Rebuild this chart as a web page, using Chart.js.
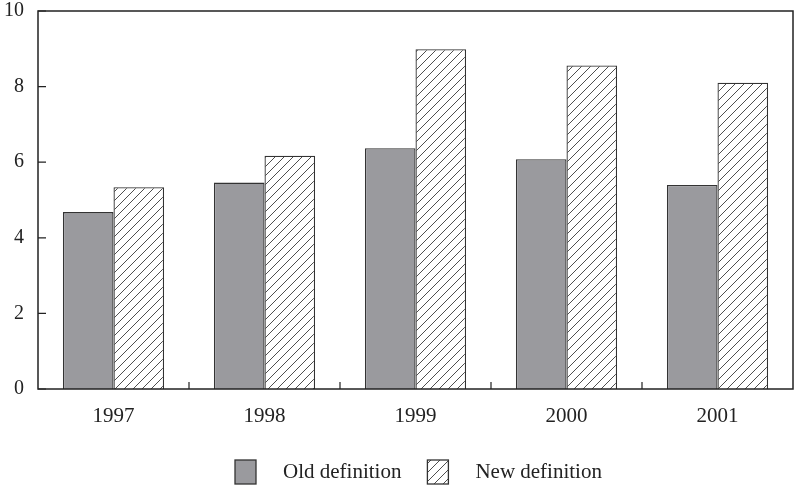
<!DOCTYPE html>
<html>
<head>
<meta charset="utf-8">
<script src="https://cdn.jsdelivr.net/npm/chart.js@4/dist/chart.umd.min.js"></script>
<style>
html,body{margin:0;padding:0;background:#fff;}
#wrap{width:796px;height:493px;}
</style>
</head>
<body>
<div id="wrap"><canvas id="c" width="796" height="493"></canvas></div>
<script>
const categories = ['1997','1998','1999','2000','2001'];
const oldDefinition = [4.68, 5.46, 6.37, 6.08, 5.40];
const newDefinition = [5.34, 6.17, 8.99, 8.56, 8.10];
const yTicks = [0, 2, 4, 6, 8, 10];
const seriesNames = ['Old definition', 'New definition'];

function makeHatch() {
  const s = 9;
  const pc = document.createElement('canvas');
  pc.width = s; pc.height = s;
  const g = pc.getContext('2d');
  g.fillStyle = '#ffffff';
  g.fillRect(0, 0, s, s);
  g.strokeStyle = '#3a3a3a';
  g.lineWidth = 0.9;
  g.beginPath();
  g.moveTo(-1, s + 1); g.lineTo(s + 1, -1);
  g.moveTo(-1, 1); g.lineTo(1, -1);
  g.moveTo(s - 1, s + 1); g.lineTo(s + 1, s - 1);
  g.stroke();
  return g.createPattern(pc, 'repeat');
}
const ctx0 = document.getElementById('c').getContext('2d');
const hatch = makeHatch();
const grayFill = '#9a9a9e';
const edge = '#333333';
const font = 'Liberation Serif, Times New Roman, serif';

const framePlugin = {
  id: 'frame',
  afterDraw(chart) {
    const { ctx, chartArea: a, scales } = chart;
    ctx.save();
    ctx.strokeStyle = '#222';
    ctx.lineWidth = 1.5;
    ctx.strokeRect(a.left, a.top, a.right - a.left, a.bottom - a.top);
    ctx.lineWidth = 1.2;
    ctx.beginPath();
    yTicks.forEach(v => {
      const y = scales.y.getPixelForValue(v);
      ctx.moveTo(a.left, y); ctx.lineTo(a.left + 8, y);
    });
    const xs = scales.x;
    const half = (xs.getPixelForValue(1) - xs.getPixelForValue(0)) / 2;
    for (let i = 1; i < categories.length; i++) {
      const x = xs.getPixelForValue(i) - half;
      ctx.moveTo(x, a.bottom); ctx.lineTo(x, a.bottom - 7);
    }
    ctx.stroke();
    const items = [
      { label: seriesNames[0], fill: grayFill },
      { label: seriesNames[1], fill: hatch }
    ];
    ctx.font = '21px ' + font;
    ctx.textBaseline = 'middle';
    let x = 235;
    const cy = 472;
    items.forEach(it => {
      ctx.fillStyle = it.fill;
      ctx.fillRect(x, cy - 12, 21, 24);
      ctx.strokeStyle = edge;
      ctx.lineWidth = 1.3;
      ctx.strokeRect(x, cy - 12, 21, 24);
      ctx.fillStyle = '#222';
      ctx.fillText(it.label, x + 48, cy);
      x += 48 + ctx.measureText(it.label).width + 26;
    });
    ctx.restore();
  }
};

new Chart(ctx0, {
  type: 'bar',
  data: {
    labels: categories,
    datasets: [
      { label: seriesNames[0], data: oldDefinition, backgroundColor: grayFill, borderColor: edge, borderWidth: 1.3 },
      { label: seriesNames[1], data: newDefinition, backgroundColor: hatch, borderColor: edge, borderWidth: 1.3 }
    ]
  },
  options: {
    responsive: false,
    animation: false,
    events: [],
    layout: { padding: { top: 11, right: 3, left: 0, bottom: 0 } },
    datasets: { bar: { categoryPercentage: 0.67, barPercentage: 1.0 } },
    plugins: { legend: { display: false }, tooltip: { enabled: false } },
    scales: {
      x: {
        grid: { display: false, drawTicks: false },
        border: { display: false },
        ticks: { color: '#222', font: { family: font, size: 21 }, padding: 15 },
        afterFit(s) { s.height = 104; s.paddingTop = 0; s.paddingBottom = 0; s.paddingLeft = 0; s.paddingRight = 0; }
      },
      y: {
        min: 0, max: 10,
        afterBuildTicks(s) { s.ticks = yTicks.map(v => ({ value: v })); },
        grid: { display: false, drawTicks: false },
        border: { display: false },
        ticks: { color: '#222', font: { family: font, size: 20 }, padding: 14 },
        afterFit(s) { s.width = 38; s.paddingTop = 0; s.paddingBottom = 0; s.paddingLeft = 0; s.paddingRight = 0; }
      }
    }
  },
  plugins: [framePlugin]
});
</script>
</body>
</html>
